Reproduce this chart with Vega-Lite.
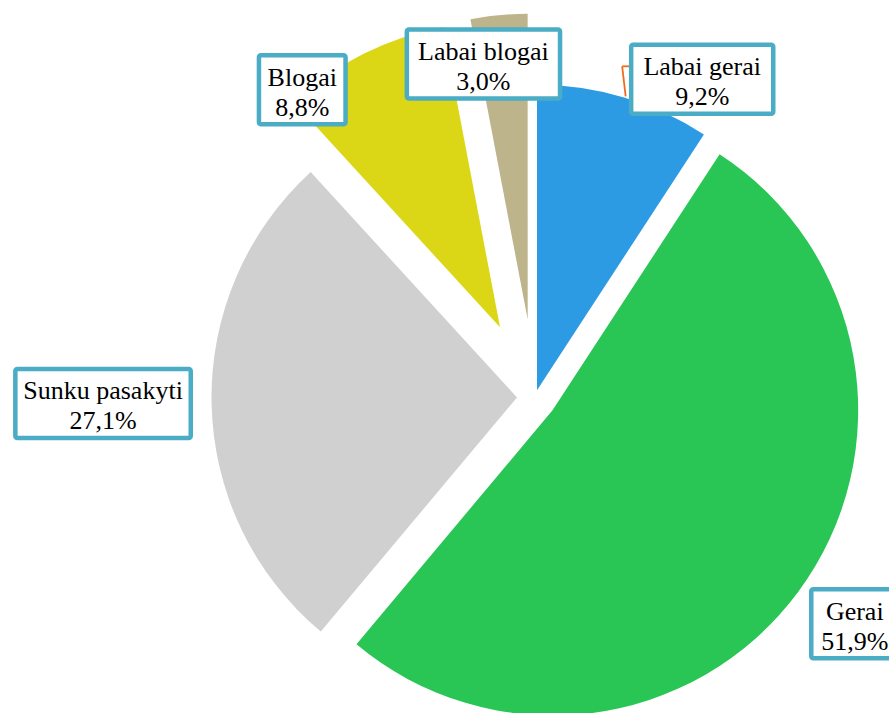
{
  "$schema": "https://vega.github.io/schema/vega-lite/v6.json",
  "width": 889,
  "height": 713,
  "padding": 0,
  "autosize": {"type": "none"},
  "background": "white",
  "config": {"view": {"stroke": null}},
  "params": [
    {"name": "pieX", "value": 535},
    {"name": "pieY", "value": 397}
  ],
  "data": {
    "values": [
      {"cat": "Labai gerai", "share": 9.2, "rank": 1},
      {"cat": "Gerai", "share": 51.9, "rank": 2},
      {"cat": "Sunku pasakyti", "share": 27.1, "rank": 3},
      {"cat": "Blogai", "share": 8.8, "rank": 4},
      {"cat": "Labai blogai", "share": 3.0, "rank": 5}
    ]
  },
  "transform": [
    {"joinaggregate": [{"op": "sum", "field": "share", "as": "total"}]},
    {"window": [{"op": "sum", "field": "share", "as": "cumEnd"}], "sort": [{"field": "rank", "order": "ascending"}], "frame": [null, 0]},
    {"calculate": "2*PI*(datum.cumEnd - datum.share)/datum.total", "as": "a0"},
    {"calculate": "2*PI*datum.cumEnd/datum.total", "as": "a1"},
    {"calculate": "(datum.a0 + datum.a1)/2", "as": "mid"},
    {"calculate": "datum.cat === 'Labai gerai' ? 7 : datum.cat === 'Gerai' ? 22 : datum.cat === 'Sunku pasakyti' ? 18 : 78", "as": "ex"},
    {"calculate": "pieX + datum.ex*sin(datum.mid)", "as": "px"},
    {"calculate": "pieY - datum.ex*cos(datum.mid)", "as": "py"},
    {"calculate": "replace(format(datum.share, '.1f'), '.', ',') + '%'", "as": "pct"},
    {"calculate": "datum.cat + '\\n' + datum.pct", "as": "lbl"},
    {"calculate": "datum.mid + PI/180*(datum.cat === 'Labai gerai' ? 11.2 : datum.cat === 'Gerai' ? -1.2 : datum.cat === 'Sunku pasakyti' ? 0.4 : datum.cat === 'Blogai' ? -10.5 : -3.4)", "as": "la"},
    {"calculate": "datum.cat === 'Labai gerai' ? 359 : datum.cat === 'Gerai' ? 392 : datum.cat === 'Sunku pasakyti' ? 432 : datum.cat === 'Blogai' ? 385.5 : 337", "as": "lr"},
    {"calculate": "pieX + datum.lr*sin(datum.la)", "as": "lx"},
    {"calculate": "pieY - datum.lr*cos(datum.la)", "as": "ly"},
    {"calculate": "max(length(datum.cat)*11.1, length(datum.pct)*13.4) + 24", "as": "bw"},
    {"calculate": "datum.lx - datum.bw/2 + 2", "as": "bx0"},
    {"calculate": "datum.lx + datum.bw/2 - 2", "as": "bx1"},
    {"calculate": "datum.ly - 34.5", "as": "by0"},
    {"calculate": "datum.ly + 34.5", "as": "by1"},
    {"calculate": "datum.ly - 4", "as": "ty"},
    {"calculate": "datum.bx0 - 9", "as": "lkx"},
    {"calculate": "datum.bx0 - 5.5", "as": "lkx2"},
    {"calculate": "datum.ly - 13", "as": "lky"},
    {"calculate": "datum.ly + 17", "as": "lky2"}
  ],
  "layer": [
    {
      "mark": {"type": "arc", "outerRadius": 305.5, "strokeWidth": 0},
      "encoding": {
        "x": {"field": "px", "type": "quantitative", "scale": null},
        "y": {"field": "py", "type": "quantitative", "scale": null},
        "theta": {"field": "a0", "type": "quantitative", "scale": null, "stack": null},
        "theta2": {"field": "a1"},
        "color": {
          "field": "cat",
          "type": "nominal",
          "scale": {
            "domain": ["Labai gerai", "Gerai", "Sunku pasakyti", "Blogai", "Labai blogai"],
            "range": ["#2D9BE4", "#29C655", "#D0D0D0", "#DCD716", "#BDB48C"]
          },
          "legend": null
        }
      }
    },
    {
      "transform": [{"filter": "datum.cat === 'Labai gerai'"}],
      "mark": {"type": "rule", "color": "#F26B1D", "strokeWidth": 1.8},
      "encoding": {
        "x": {"field": "lkx", "type": "quantitative", "scale": null},
        "x2": {"field": "bx0"},
        "y": {"field": "lky", "type": "quantitative", "scale": null},
        "y2": {"field": "lky"}
      }
    },
    {
      "transform": [{"filter": "datum.cat === 'Labai gerai'"}],
      "mark": {"type": "rule", "color": "#F26B1D", "strokeWidth": 1.8},
      "encoding": {
        "x": {"field": "lkx", "type": "quantitative", "scale": null},
        "x2": {"field": "lkx2"},
        "y": {"field": "lky", "type": "quantitative", "scale": null},
        "y2": {"field": "lky2"}
      }
    },
    {
      "mark": {"type": "rect", "fill": "white", "stroke": "#4BACC6", "strokeWidth": 4.5, "cornerRadius": 2},
      "encoding": {
        "x": {"field": "bx0", "type": "quantitative", "scale": null},
        "x2": {"field": "bx1"},
        "y": {"field": "by0", "type": "quantitative", "scale": null},
        "y2": {"field": "by1"}
      }
    },
    {
      "mark": {
        "type": "text",
        "font": "Liberation Serif, Times New Roman, serif",
        "fontSize": 26,
        "lineHeight": 30,
        "align": "center",
        "baseline": "alphabetic",
        "lineBreak": "\n",
        "color": "black"
      },
      "encoding": {
        "x": {"field": "lx", "type": "quantitative", "scale": null},
        "y": {"field": "ty", "type": "quantitative", "scale": null},
        "text": {"field": "lbl", "type": "nominal"}
      }
    }
  ]
}
